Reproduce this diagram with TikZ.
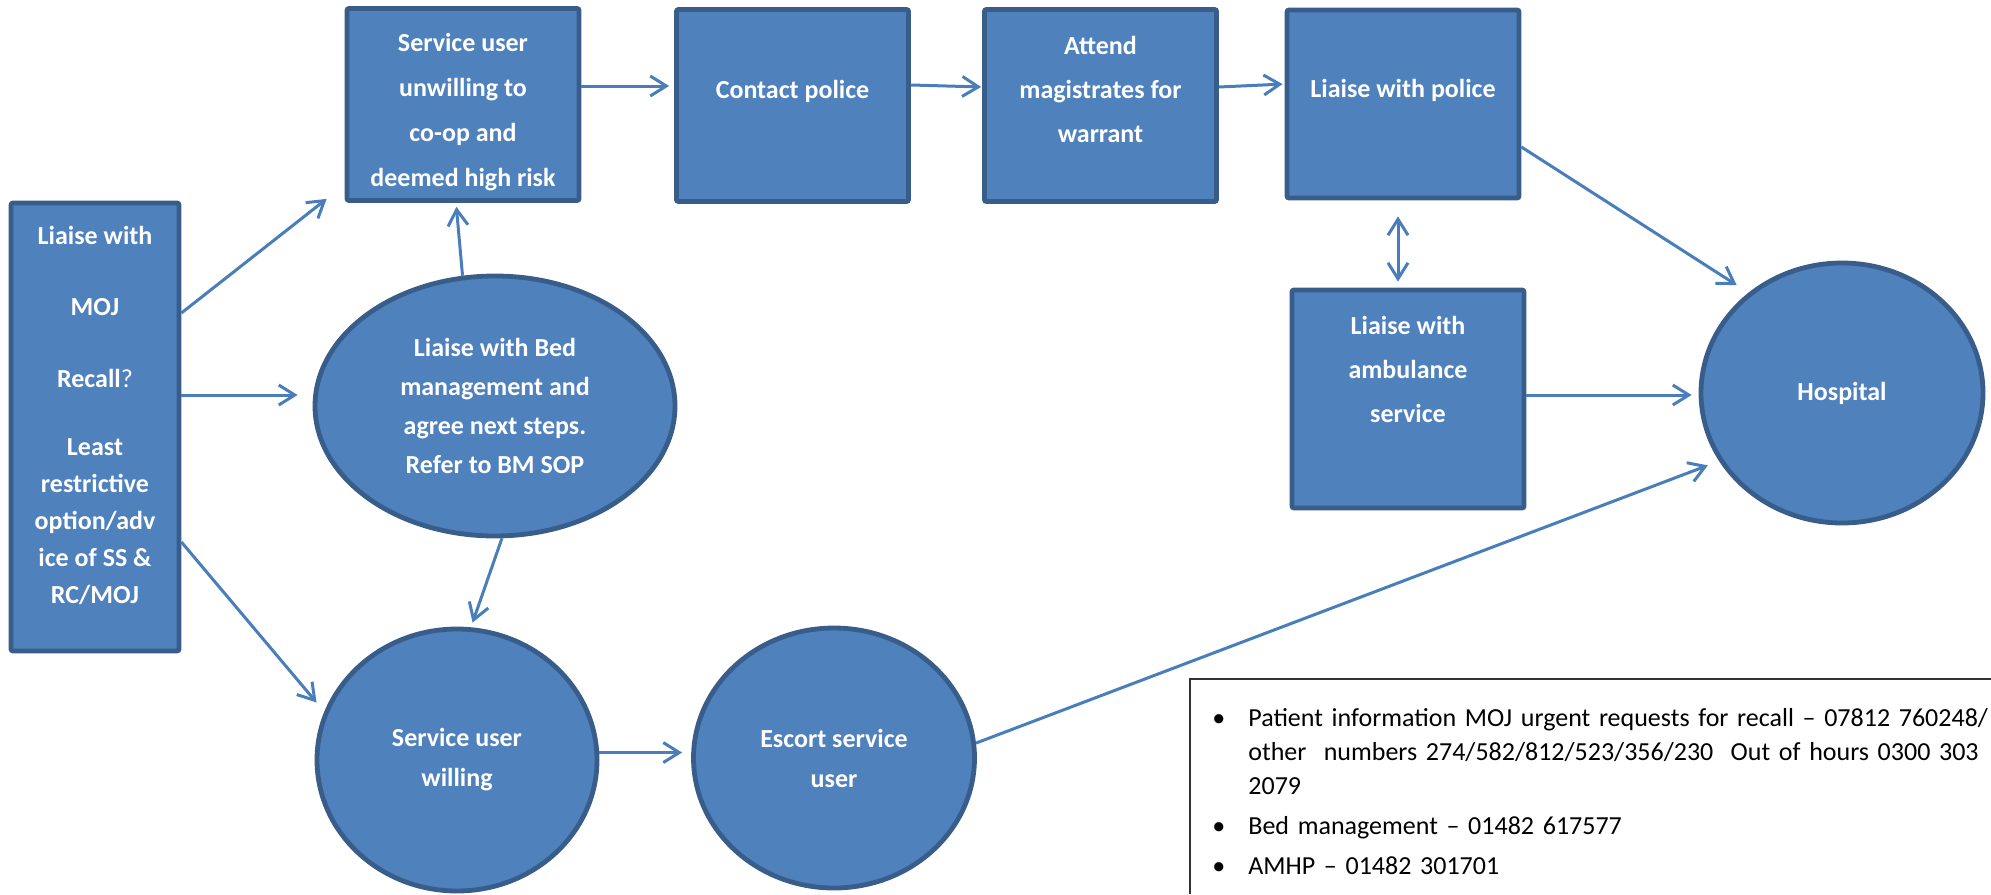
\documentclass[tikz,border=0pt]{standalone}
\usepackage{fontspec}
\setmainfont{Carlito}
\usetikzlibrary{positioning, arrows.meta, shapes.geometric}

\definecolor{boxfill}{HTML}{4F81BD}
\definecolor{boxline}{HTML}{385D8A}
\definecolor{arrowblue}{HTML}{4A7EBB}

\newcommand{\infoitem}[1]{\par\hangindent=18pt\hangafter=1\noindent\makebox[18pt][l]{\textbullet}#1\par}

\tikzset{
  barb/.tip={Straight Barb[length=8pt,width=10pt]},
  task/.style={draw=boxline, line width=2.4pt, fill=boxfill, rounded corners=1pt,
    text=white, align=center, inner sep=0pt,
    font=\bfseries\fontsize{13}{22}\selectfont},
  toprow/.style={minimum width=116pt, minimum height=96pt, text depth=16pt},
  oval/.style={ellipse, draw=boxline, line width=2.4pt, fill=boxfill,
    text=white, align=center, inner sep=0pt,
    font=\bfseries\fontsize{13}{20}\selectfont},
  flow/.style={draw=arrowblue, line width=1.5pt, -barb},
  flowboth/.style={draw=arrowblue, line width=1.5pt, barb-barb},
}

\begin{document}
\begin{tikzpicture}[x=0.5pt, y=-0.5pt]
\useasboundingbox (0,0) rectangle (1991,894);

\path
(95,427) node[task, minimum width=84pt, minimum height=224pt, text depth=12pt,
  font=\bfseries\fontsize{13}{18.5}\selectfont] (moj)
  {Liaise with\\[17pt]MOJ\\[17.5pt]Recall{\mdseries ?}\\[15.5pt]Least\\restrictive\\option/adv\\ice of SS \&\\RC/MOJ}
(463,104.5) node[task, minimum width=116pt, minimum height=96pt, text height=84pt,
  font=\bfseries\fontsize{13}{22.5}\selectfont] (unwilling)
  {Service user\\unwilling to\\co-op and\\deemed high risk}
(792.5,105.5) node[task, toprow] (contact) {Contact police}
(1100.5,105.5) node[task, toprow] (attend) {Attend\\magistrates for\\warrant}
(1403,104) node[task, toprow, minimum height=94pt] (police) {Liaise with police}
(1408,399) node[task, minimum width=116pt, minimum height=109pt, text depth=30pt] (ambulance)
  {Liaise with\\ambulance\\service}
(495,406) node[oval, minimum width=180pt, minimum height=130pt,
  font=\bfseries\fontsize{13}{19.5}\selectfont] (bed)
  {Liaise with Bed\\management and\\agree next steps.\\Refer to BM SOP}
(457,760) node[oval, minimum width=140pt, minimum height=131pt] (willing) {Service user\\willing}
(834,758) node[oval, minimum width=140.5pt, minimum height=130pt] (escort) {Escort service\\user}
(1842,393) node[oval, minimum width=141pt, minimum height=130pt] (hospital) {Hospital}
;

% contact numbers
\draw[black!80, line width=0.8pt] (1991,679) -- (1190,679) -- (1190,894);
\node[anchor=north west, inner sep=0pt, text width=440pt, align=left,
  font=\fontsize{13}{17}\selectfont] (info) at (1212,686)
  {\setlength{\parskip}{3pt}%
   \infoitem{Patient information MOJ urgent requests for recall – 07812 760248/\newline other~~numbers 274/582/812/523/356/230~~Out of hours 0300 303\newline 2079}%
   \infoitem{Bed management – 01482 617577}%
   \infoitem{AMHP – 01482 301701}};

\draw[flow] (moj.east |- 0,313) -- ([xshift=-9pt,yshift=2pt]unwilling.south west);
\draw[flow, shorten >=7.5pt] (moj.east |- 0,395) -- (bed.west |- 0,395);
\draw[flow, shorten >=6pt] (moj.east |- 0,542) -- (willing.160);

\draw[flow, shorten >=2pt] (bed.104) -- ([xshift=-3.5pt]unwilling.south);
\draw[flow, shorten >=2.5pt] (bed.-87) -- (willing.84);

\draw[flow, shorten >=2.5pt] (unwilling.east |- 0,86) -- (contact.west |- 0,86);
\draw[flow, shorten >=0.5pt] (contact.east |- 0,85) -- (attend.west |- 0,87);
\draw[flow, shorten >=1pt] (attend.east |- 0,87) -- (police.west |- 0,84);

\draw[flow, shorten >=7pt] (police.east |- 0,147) -- (hospital.133);
\draw[flowboth, shorten <=8pt, shorten >=3pt]
  ([xshift=-2.5pt]police.south) -- ([xshift=-5pt]ambulance.north);
\draw[flow, shorten >=3.5pt] (ambulance.east |- 0,395) -- (hospital.west |- 0,395);

\draw[flow, shorten >=4.5pt] (willing.3) -- (willing.3 -| escort.west);
\draw[flow, shorten >=6pt] (escort.6) -- (hospital.209);

\end{tikzpicture}
\end{document}
